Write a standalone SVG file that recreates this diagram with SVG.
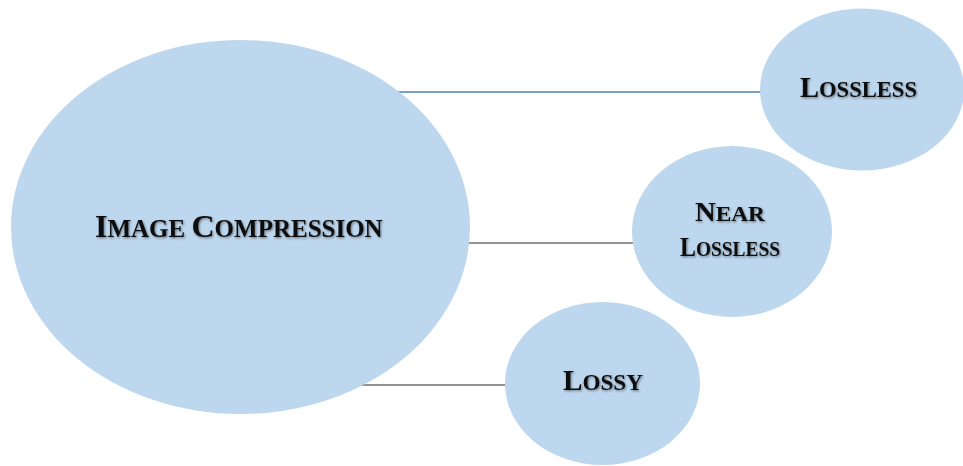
<svg xmlns="http://www.w3.org/2000/svg" width="963" height="466" viewBox="0 0 963 466">
  <defs>
    <filter id="sh" x="-10%" y="-30%" width="120%" height="160%">
      <feDropShadow dx="1" dy="1.2" stdDeviation="0.8" flood-color="#000" flood-opacity="0.45"/>
    </filter>
  </defs>
  <style>
    .node { fill: #bdd7ee; stroke: none; }
    .lbl { font-family: "Liberation Serif", "DejaVu Serif", serif; font-weight: bold; fill: #111; filter: url(#sh); }
    .sc { font-size: 23px; }
    .cap { font-size: 29px; }
    .big .sc { font-size: 25px; }
    .big .cap { font-size: 32px; }
    .nl .sc { font-size: 22px; }
    .nl .cap { font-size: 27px; }
    .conn { stroke-width: 1.3; fill: none; }
  </style>
  <rect width="963" height="466" fill="#ffffff"/>
  <g id="connectors">
    <line class="conn" x1="398" y1="92" x2="762" y2="92" stroke="#4f7fb3"/>
    <line class="conn" x1="468" y1="243" x2="633" y2="243" stroke="#6e6e6e"/>
    <line class="conn" x1="356" y1="385" x2="507" y2="385" stroke="#6e6e6e"/>
  </g>
  <g id="image-compression" class="big">
    <ellipse class="node" cx="240.5" cy="227" rx="229.5" ry="187"/>
    <text class="lbl" x="95" y="237"><tspan class="cap">I</tspan><tspan class="sc">MAGE </tspan><tspan class="cap">C</tspan><tspan class="sc">OMPRESSION</tspan></text>
  </g>
  <g id="lossless">
    <ellipse class="node" cx="862" cy="89.5" rx="102" ry="81"/>
    <text class="lbl" x="800" y="97" textLength="117" lengthAdjust="spacingAndGlyphs"><tspan class="cap">L</tspan><tspan class="sc">OSSLESS</tspan></text>
  </g>
  <g id="near-lossless" class="nl">
    <ellipse class="node" cx="732" cy="231.5" rx="100" ry="85.5"/>
    <text class="lbl" x="695" y="221" textLength="70" lengthAdjust="spacingAndGlyphs"><tspan class="cap">N</tspan><tspan class="sc">EAR</tspan></text>
    <text class="lbl" x="680" y="256" textLength="100" lengthAdjust="spacingAndGlyphs"><tspan class="cap">L</tspan><tspan class="sc">OSSLESS</tspan></text>
  </g>
  <g id="lossy">
    <ellipse class="node" cx="602.5" cy="383.5" rx="97.5" ry="81.5"/>
    <text class="lbl" x="563" y="390" textLength="80" lengthAdjust="spacingAndGlyphs"><tspan class="cap">L</tspan><tspan class="sc">OSSY</tspan></text>
  </g>
</svg>
